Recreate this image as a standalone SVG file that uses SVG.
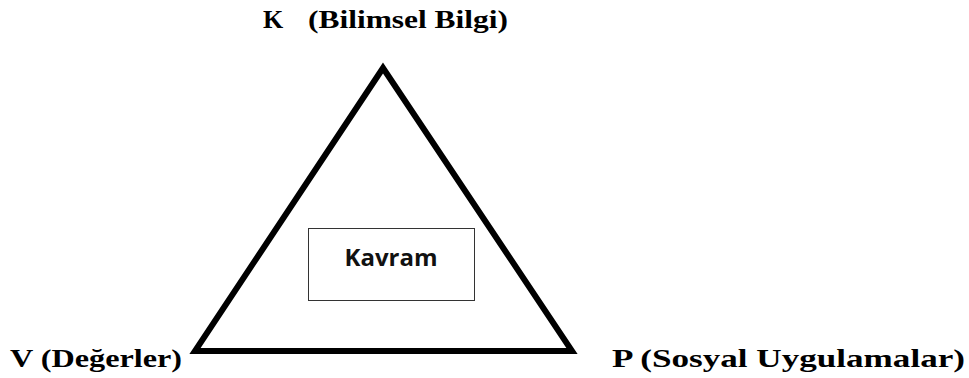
<svg xmlns="http://www.w3.org/2000/svg" width="969" height="378" viewBox="0 0 969 378">
<style>
.lbl{font-family:"Liberation Serif","DejaVu Serif",serif;font-weight:bold;font-size:26px;fill:#000}
.box{font-family:"Open Sans","Noto Sans",sans-serif;font-weight:bold;font-size:24px;fill:#111}
</style>
<rect width="969" height="378" fill="#fff"/>
<g id="connectors">
<polygon points="383,68 195,351 572,351" fill="none" stroke="#000" stroke-width="6" stroke-linejoin="miter" stroke-miterlimit="10"/>
</g>
<g id="node-K">
<text class="lbl" x="263" y="28">K</text>
<text class="lbl" x="308" y="28" textLength="200" lengthAdjust="spacingAndGlyphs">(Bilimsel Bilgi)</text>
</g>
<g id="node-V">
<text class="lbl" x="10" y="367" textLength="172" lengthAdjust="spacingAndGlyphs">V (Değerler)</text>
</g>
<g id="node-P">
<text class="lbl" x="612" y="367" textLength="353" lengthAdjust="spacingAndGlyphs">P (Sosyal Uygulamalar)</text>
</g>
<g id="node-Kavram">
<rect x="308.5" y="228.5" width="166" height="72" fill="#fff" stroke="#333" stroke-width="1"/>
<text class="box" x="391" y="266" text-anchor="middle">Kavram</text>
</g>
</svg>
